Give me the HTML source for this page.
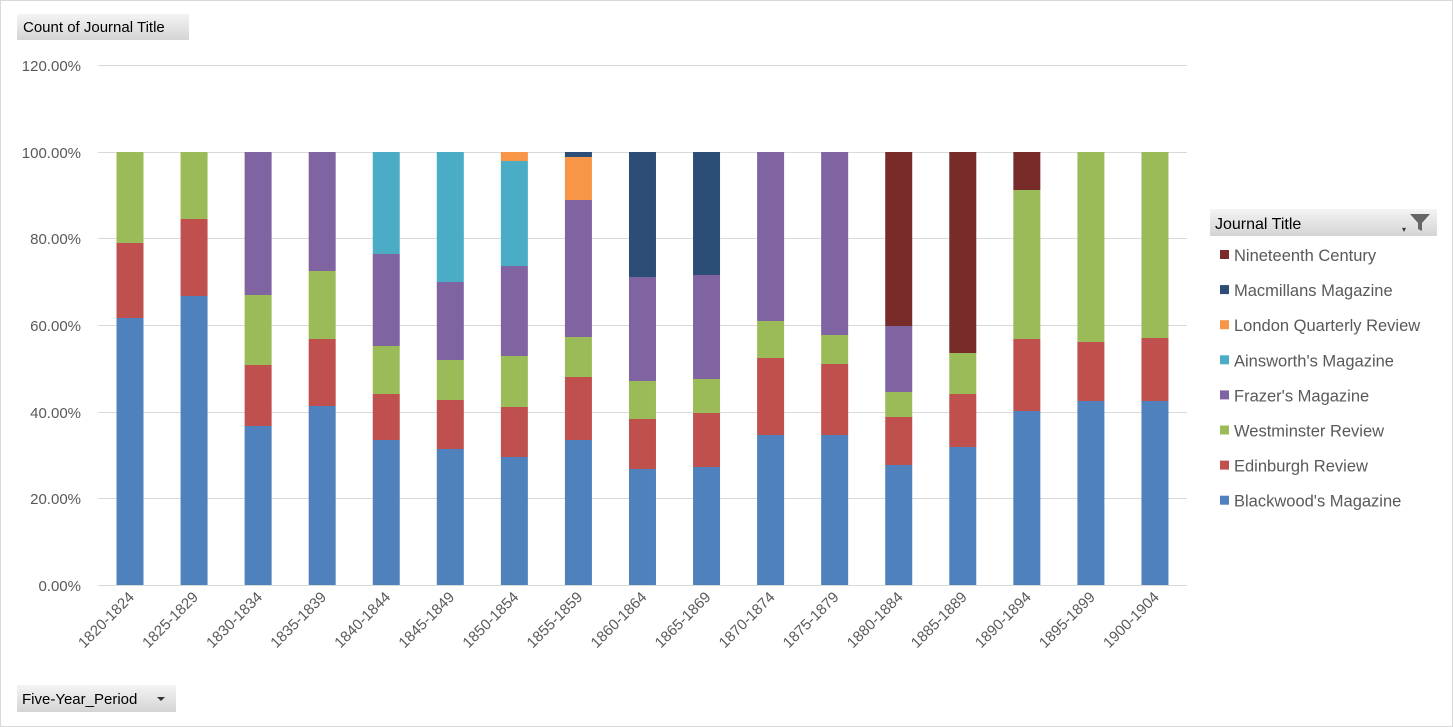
<!DOCTYPE html>
<html><head><meta charset="utf-8"><style>
body{margin:0;background:#fff}
svg{display:block;font-family:"Liberation Sans",sans-serif}
</style></head><body>
<svg width="1453" height="727" viewBox="0 0 1453 727" xmlns="http://www.w3.org/2000/svg">
<defs><linearGradient id="g" x1="0" y1="0" x2="0" y2="1"><stop offset="0" stop-color="#f4f4f4"/><stop offset="1" stop-color="#d4d4d4"/></linearGradient></defs>
<rect x="0.5" y="0.5" width="1452" height="726" fill="#fff" stroke="#d9d9d9"/>
<rect x="17" y="14" width="172" height="26" fill="url(#g)"/>
<text x="23" y="32" font-size="15" fill="#000">Count of Journal Title</text>
<g stroke="#d9d9d9" stroke-width="1">
<line x1="98" y1="65.5" x2="1187" y2="65.5"/><line x1="98" y1="152.5" x2="1187" y2="152.5"/><line x1="98" y1="238.5" x2="1187" y2="238.5"/><line x1="98" y1="325.5" x2="1187" y2="325.5"/><line x1="98" y1="412.5" x2="1187" y2="412.5"/><line x1="98" y1="498.5" x2="1187" y2="498.5"/><line x1="98" y1="585.5" x2="1187" y2="585.5"/>
</g>
<g font-size="15" fill="#595959" text-anchor="end">
<text x="81" y="71">120.00%</text><text x="81" y="158">100.00%</text><text x="81" y="244">80.00%</text><text x="81" y="331">60.00%</text><text x="81" y="418">40.00%</text><text x="81" y="504">20.00%</text><text x="81" y="591">0.00%</text>
</g>
<g id="bars"></g>
<g id="xl" font-size="15" fill="#595959" text-anchor="end"></g>
<rect x="1210" y="209" width="227" height="27" fill="url(#g)"/>
<text x="1215" y="229" font-size="16" fill="#000">Journal Title</text>
<path d="M1410 214h20l-8 9v8l-4 -2v-6z" fill="#666"/>
<text x="1402" y="232" font-size="8" fill="#333">▾</text>
<g font-size="16.5" fill="#595959" id="leg"></g>
<rect x="17" y="685" width="159" height="27" fill="url(#g)"/>
<text x="22" y="704" font-size="15" fill="#000">Five-Year_Period</text>
<path d="M157 697h8l-4 4z" fill="#333"/>
</svg>
<script>
const C=["#4F81BD","#C0504D","#9BBB59","#8064A2","#4BACC6","#F79646","#2C4D75","#772C2A"];
const L=["1820-1824","1825-1829","1830-1834","1835-1839","1840-1844","1845-1849","1850-1854","1855-1859","1860-1864","1865-1869","1870-1874","1875-1879","1880-1884","1885-1889","1890-1894","1895-1899","1900-1904"];
const D=[
[[0,318],[1,243],[2,152]],
[[0,296],[1,219],[2,152]],
[[0,426],[1,365],[2,295],[3,152]],
[[0,406],[1,339],[2,271],[3,152]],
[[0,440],[1,394],[2,346],[3,254],[4,152]],
[[0,449],[1,400],[2,360],[3,282],[4,152]],
[[0,457],[1,407],[2,356],[3,266],[4,161],[5,152]],
[[0,440],[1,377],[2,337],[3,200],[5,157],[6,152]],
[[0,469],[1,419],[2,381],[3,277],[6,152]],
[[0,467],[1,413],[2,379],[3,275],[6,152]],
[[0,435],[1,358],[2,321],[3,152]],
[[0,435],[1,364],[2,335],[3,152]],
[[0,465],[1,417],[2,392],[3,326],[7,152]],
[[0,447],[1,394],[2,353],[7,152]],
[[0,411],[1,339],[2,190],[7,152]],
[[0,401],[1,342],[2,152]],
[[0,401],[1,338],[2,152]]];
const ns="http://www.w3.org/2000/svg";
let b=document.getElementById("bars"),xl=document.getElementById("xl"),lg=document.getElementById("leg");
D.forEach((s,i)=>{let cx=130+i*64.06,prev=585;
s.forEach(([c,y])=>{let r=document.createElementNS(ns,"rect");r.setAttribute("x",cx-13.5);r.setAttribute("width",27);r.setAttribute("y",y);r.setAttribute("height",prev-y);r.setAttribute("fill",C[c]);b.appendChild(r);prev=y;});
let t=document.createElementNS(ns,"text");t.setAttribute("transform",`translate(${cx+5},${598}) rotate(-45)`);t.textContent=L[i];xl.appendChild(t);});
const N=["Nineteenth Century","Macmillans Magazine","London Quarterly Review","Ainsworth's Magazine","Frazer's Magazine","Westminster Review","Edinburgh Review","Blackwood's Magazine"];
N.forEach((n,i)=>{let y=255+i*35.1;let r=document.createElementNS(ns,"rect");r.setAttribute("x",1220);r.setAttribute("y",y-5);r.setAttribute("width",9);r.setAttribute("height",9);r.setAttribute("fill",C[7-i]);lg.appendChild(r);
let t=document.createElementNS(ns,"text");t.setAttribute("x",1234);t.setAttribute("y",y+6);t.textContent=n;lg.appendChild(t);});
</script>
</body></html>
